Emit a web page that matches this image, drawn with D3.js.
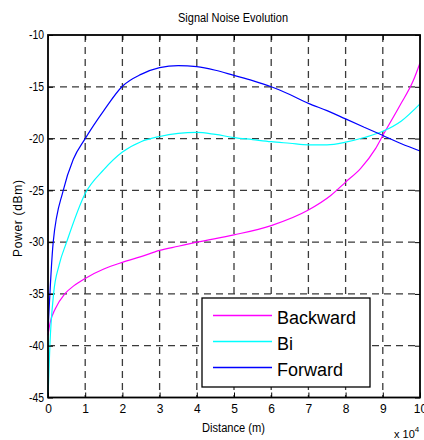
<!DOCTYPE html>
<html>
<head>
<meta charset="utf-8">
<script src="https://cdn.jsdelivr.net/npm/d3@7"></script>
<style>
  html, body { margin: 0; padding: 0; background: #fff; }
  svg { display: block; }
  text { font-family: "Liberation Sans", Arial, sans-serif; fill: #000; }
</style>
</head>
<body>
<svg id="chart" width="424" height="440"></svg>
<script>
// Distance in units of 10^4 m, power in dBm
const backwardDist = [0, 0.05, 0.2, 0.45, 0.7, 1, 1.5, 2, 2.5, 3, 3.5, 4, 5, 6, 7, 7.6, 8, 8.4, 8.8, 9, 9.46, 9.82, 10];
const backwardPow  = [-39, -37.9, -36.4, -35, -34.2, -33.5, -32.6, -31.95, -31.4, -30.8, -30.4, -30.0, -29.3, -28.4, -26.9, -25.5, -24.2, -22.9, -21.0, -19.7, -16.8, -14.4, -12.7];

const biDist = [0, 0.05, 0.15, 0.3, 0.5, 1, 1.5, 2, 2.5, 3, 3.5, 4, 4.5, 5, 5.5, 6, 6.5, 7, 7.5, 8, 8.5, 9, 9.5, 10];
const biPow  = [-45, -40, -35, -32.2, -30, -25.3, -23, -21.3, -20.3, -19.8, -19.5, -19.4, -19.6, -19.9, -20.1, -20.3, -20.45, -20.6, -20.6, -20.35, -19.9, -19.3, -18.3, -16.65];

const forwardDist = [0, 0.14, 0.41, 0.68, 1, 1.5, 2, 2.5, 3, 3.5, 4, 4.5, 5, 5.5, 6, 6.5, 7, 7.5, 8, 8.5, 9, 9.5, 10];
const forwardPow  = [-38.6, -30, -25, -22, -20, -17.3, -14.95, -13.8, -13.15, -12.95, -13.05, -13.4, -13.9, -14.4, -15.0, -15.75, -16.6, -17.3, -18.1, -18.9, -19.7, -20.5, -21.2];

const seriesNames  = ["Backward", "Bi", "Forward"];
const seriesColors = ["#ff00ff", "#00ffff", "#0000ff"];
const xTicks = [0, 1, 2, 3, 4, 5, 6, 7, 8, 9, 10];
const yTicks = [-45, -40, -35, -30, -25, -20, -15, -10];

const series = [
  { name: seriesNames[0], color: seriesColors[0], pts: backwardDist.map((d, i) => [d, backwardPow[i]]) },
  { name: seriesNames[1], color: seriesColors[1], pts: biDist.map((d, i) => [d, biPow[i]]) },
  { name: seriesNames[2], color: seriesColors[2], pts: forwardDist.map((d, i) => [d, forwardPow[i]]) }
];

const svg = d3.select("#chart");
const L = 48, R = 420, T = 35, B = 397.5;

const x = d3.scaleLinear().domain([0, 10]).range([L, R]);
const y = d3.scaleLinear().domain([-45, -10]).range([B, T]);

// dashed grid
const grid = svg.append("g").attr("stroke", "#3a3a3a").attr("stroke-width", 1.3).attr("stroke-dasharray", "7,5");
grid.selectAll("line.vx").data(xTicks.slice(1, -1)).join("line")
  .attr("x1", d => x(d)).attr("x2", d => x(d)).attr("y1", T).attr("y2", B);
grid.selectAll("line.hy").data(yTicks.slice(1, -1)).join("line")
  .attr("x1", L).attr("x2", R).attr("y1", d => y(d)).attr("y2", d => y(d));

// curves
const line = d3.line().x(d => x(d[0])).y(d => y(d[1])).curve(d3.curveMonotoneX);
svg.append("g").selectAll("path").data(series).join("path")
  .attr("d", d => line(d.pts))
  .attr("fill", "none")
  .attr("stroke", d => d.color)
  .attr("stroke-width", 1.2);

// axes with inward ticks on all four sides; plain hyphen for negatives
const fmt = d => String(d);
const axB = svg.append("g").attr("transform", `translate(0,${B})`)
  .call(d3.axisBottom(x).tickValues(xTicks).tickFormat(fmt).tickSizeInner(-5).tickSizeOuter(0).tickPadding(7));
const axT = svg.append("g").attr("transform", `translate(0,${T})`)
  .call(d3.axisTop(x).tickValues(xTicks).tickFormat("").tickSizeInner(-5).tickSizeOuter(0));
const axL = svg.append("g").attr("transform", `translate(${L},0)`)
  .call(d3.axisLeft(y).tickValues(yTicks).tickFormat(fmt).tickSizeInner(-5).tickSizeOuter(0).tickPadding(4));
const axR = svg.append("g").attr("transform", `translate(${R},0)`)
  .call(d3.axisRight(y).tickValues(yTicks).tickFormat("").tickSizeInner(-5).tickSizeOuter(0));
[axB, axT, axL, axR].forEach(a => {
  a.select(".domain").remove();
  a.selectAll(".tick line").attr("stroke", "#000").attr("stroke-width", 1);
  a.selectAll("text").attr("font-size", 12).attr("font-family", null).attr("fill", "#000");
});
axL.selectAll("text").attr("textLength", 15).attr("lengthAdjust", "spacingAndGlyphs");

// frame
svg.append("rect").attr("x", L).attr("y", T).attr("width", R - L).attr("height", B - T)
  .attr("fill", "none").attr("stroke", "#000").attr("stroke-width", 1.8);

// title and axis labels
svg.append("text").attr("x", 178).attr("y", 22)
  .attr("font-size", 12).attr("textLength", 110).attr("lengthAdjust", "spacingAndGlyphs")
  .text("Signal Noise Evolution");
svg.append("text").attr("x", 202).attr("y", 432)
  .attr("font-size", 12).attr("textLength", 63).attr("lengthAdjust", "spacingAndGlyphs")
  .text("Distance (m)");
svg.append("text").attr("transform", "translate(22,257) rotate(-90)")
  .attr("font-size", 12).attr("textLength", 77).attr("lengthAdjust", "spacing")
  .text("Power (dBm)");

// exponent marker
const ex = svg.append("text").attr("x", 394).attr("y", 438).attr("font-size", 11);
ex.append("tspan").text("x 10");
ex.append("tspan").attr("dy", -6).attr("font-size", 8).text("4");

// legend
const lg = svg.append("g");
lg.append("rect").attr("x", 202).attr("y", 298).attr("width", 168).attr("height", 89)
  .attr("fill", "#fff").attr("stroke", "#000").attr("stroke-width", 1.3);
const rowY = [315.5, 341.5, 367.5];
const rows = lg.selectAll("g.row").data(series).join("g").attr("class", "row")
  .attr("transform", (d, i) => `translate(0,${rowY[i]})`);
rows.append("line").attr("x1", 213).attr("x2", 272).attr("y1", 0).attr("y2", 0)
  .attr("stroke", d => d.color).attr("stroke-width", 1.3);
rows.append("text").attr("x", 277).attr("y", 8).attr("font-size", 18).text(d => d.name);
</script>
</body>
</html>
